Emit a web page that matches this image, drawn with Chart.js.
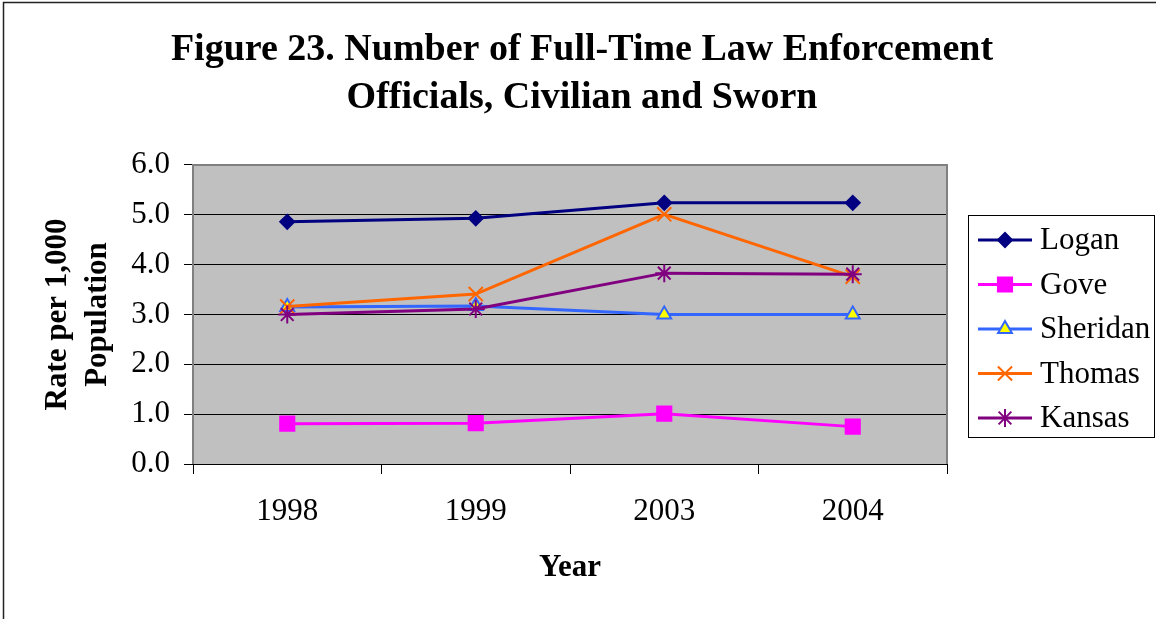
<!DOCTYPE html>
<html>
<head>
<meta charset="utf-8">
<script src="https://cdn.jsdelivr.net/npm/chart.js@4/dist/chart.umd.min.js"></script>
<style>
  html, body { margin: 0; padding: 0; background: #fff; overflow: hidden; }
  #wrap { position: relative; width: 1156px; height: 619px; }
</style>
</head>
<body>
<div id="wrap"><canvas id="myChart" width="1156" height="619"></canvas></div>
<script>
// data
const years = ['1998', '1999', '2003', '2004'];
const logan = [4.86, 4.93, 5.24, 5.24];
const gove = [0.81, 0.82, 1.01, 0.75];
const sheridan = [3.15, 3.17, 3.0, 3.0];
const thomas = [3.16, 3.41, 5.01, 3.76];
const kansas = [3.0, 3.11, 3.83, 3.81];
const yTicks = ['0.0', '1.0', '2.0', '3.0', '4.0', '5.0', '6.0'];

const serif = 'Liberation Serif';

function series(label, data, color, style, radius, fill, order) {
  return {
    label: label,
    data: data,
    borderColor: color,
    borderWidth: 3,
    pointStyle: style,
    pointRadius: radius,
    pointHoverRadius: radius,
    pointBackgroundColor: fill || color,
    pointBorderColor: color,
    pointBorderWidth: 2,
    tension: 0,
    fill: false,
    order: order
  };
}

const datasets = [
  series('Logan', logan, '#000080', 'rectRot', 7, null, 5),
  series('Gove', gove, '#FF00FF', 'rect', 10, null, 4),
  series('Sheridan', sheridan, '#3366FF', 'triangle', 8, '#FFFF00', 3),
  series('Thomas', thomas, '#FF6600', 'crossRot', 10, null, 2),
  series('Kansas', kansas, '#800080', 'star', 9, null, 1)
];

// grey plot background, page frame
const plotBg = {
  id: 'plotBg',
  beforeDraw(chart) {
    const { ctx, chartArea: a } = chart;
    ctx.save();
    ctx.strokeStyle = '#222';
    ctx.lineWidth = 1.5;
    ctx.strokeRect(3.5, 2.5, 1170, 640);
    ctx.fillStyle = '#C0C0C0';
    ctx.fillRect(a.left, a.top, a.right - a.left, a.bottom - a.top);
    ctx.restore();
  },
  beforeDatasetsDraw(chart) {
    const { ctx, chartArea: a } = chart;
    ctx.save();
    ctx.strokeStyle = '#808080';
    ctx.lineWidth = 2;
    ctx.beginPath();
    ctx.moveTo(a.left, a.bottom);
    ctx.lineTo(a.left, a.top);
    ctx.lineTo(a.right, a.top);
    ctx.lineTo(a.right, a.bottom);
    ctx.stroke();
    ctx.restore();
  }
};

// boxed legend with line + marker samples
const boxLegend = {
  id: 'boxLegend',
  afterDraw(chart) {
    const ctx = chart.ctx;
    ctx.save();
    ctx.strokeStyle = '#000';
    ctx.lineWidth = 1;
    ctx.strokeRect(968.5, 215.5, 186, 222);
    chart.data.datasets.forEach(function(ds, i) {
      const y = 240 + i * 44.5;
      ctx.strokeStyle = ds.borderColor;
      ctx.lineWidth = 3;
      ctx.beginPath();
      ctx.moveTo(978, y);
      ctx.lineTo(1032, y);
      ctx.stroke();
      ctx.fillStyle = ds.pointBackgroundColor;
      ctx.strokeStyle = ds.pointBorderColor;
      ctx.lineWidth = ds.pointBorderWidth;
      if (Chart.helpers && Chart.helpers.drawPoint) {
        Chart.helpers.drawPoint(ctx, {
          pointStyle: ds.pointStyle,
          radius: ds.pointRadius,
          rotation: 0,
          borderWidth: ds.pointBorderWidth
        }, 1005, y);
      }
      ctx.fillStyle = '#000';
      ctx.font = '31px "' + serif + '"';
      ctx.textAlign = 'left';
      ctx.textBaseline = 'middle';
      ctx.fillText(ds.label, 1040, y + 1);
    });
    ctx.restore();
  }
};

new Chart(document.getElementById('myChart'), {
  type: 'line',
  data: { labels: years, datasets: datasets },
  options: {
    responsive: false,
    animation: false,
    layout: { padding: { left: 8, right: 0, top: 0, bottom: 0 } },
    plugins: {
      legend: { display: false },
      tooltip: { enabled: false },
      title: {
        display: true,
        text: ['Figure 23. Number of Full-Time Law Enforcement', 'Officials, Civilian and Sworn'],
        color: '#000',
        font: { family: serif, size: 38, weight: 'bold', lineHeight: 1.263 },
        padding: { top: 26, bottom: 43 }
      }
    },
    scales: {
      x: {
        offset: true,
        grid: { display: true, drawOnChartArea: false, drawTicks: true, tickLength: 10, color: '#000', offset: true },
        border: { display: true, color: '#000', width: 1 },
        ticks: { color: '#000', font: { family: serif, size: 31 }, padding: 19, maxRotation: 0 },
        title: {
          display: true,
          text: 'Year',
          color: '#000',
          font: { family: serif, size: 31, weight: 'bold', lineHeight: 1.15 },
          padding: { top: 0, bottom: 33 }
        },
        afterFit(scale) { scale.height = 155; }
      },
      y: {
        min: 0,
        max: 6,
        grid: { color: '#000', lineWidth: 1, tickLength: 9, drawTicks: true },
        border: { display: false },
        ticks: {
          stepSize: 1,
          color: '#000',
          font: { family: serif, size: 31 },
          padding: 14,
          callback: function(v) { return yTicks[v]; }
        },
        title: {
          display: true,
          text: ['Rate per 1,000', 'Population'],
          color: '#000',
          font: { family: serif, size: 31, weight: 'bold', lineHeight: 1.29 },
          padding: { top: 30, bottom: 0 }
        },
        afterFit(scale) { scale.width = 185; }
      },
      yRight: {
        position: 'right',
        display: true,
        grid: { display: false },
        border: { display: false },
        ticks: { display: false },
        afterFit(scale) { scale.width = 209; }
      }
    }
  },
  plugins: [plotBg, boxLegend]
});
</script>
</body>
</html>
